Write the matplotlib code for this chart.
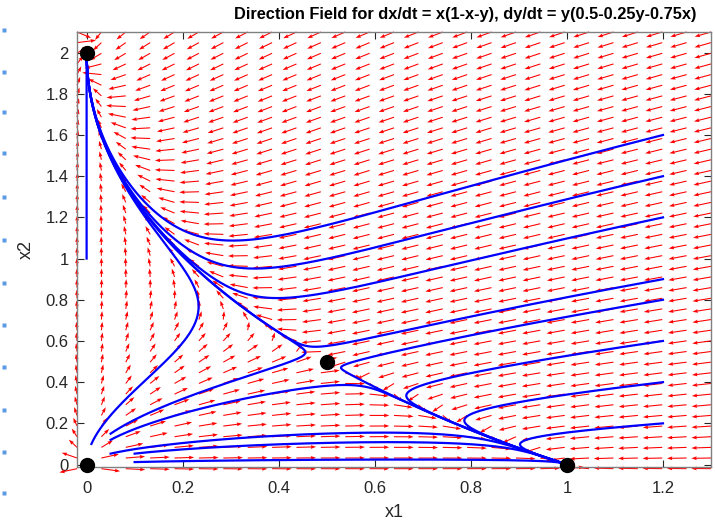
import numpy as np
import matplotlib
matplotlib.use("Agg")
import matplotlib.pyplot as plt

plt.rcParams['font.family'] = ['Liberation Sans', 'DejaVu Sans']

# system from the title: dx/dt = x(1-x-y), dy/dt = y(0.5-0.25y-0.75x)
a1, b1, c1 = 1.0, 1.0, 1.0
a2, b2, c2 = 0.5, 0.25, 0.75

# grid of the direction field
grid_x = np.linspace(-0.02, 1.3, 27)
grid_y = np.linspace(-0.02, 2.1, 42)
arrow_len = 0.041

# starting points of the plotted trajectories
start_x = [1.2, 1.2, 1.2, 1.2, 1.2, 1.2, 1.2, 1.2, 0.0, 0.01, 0.05, 0.05, 0.05, 0.1, 0.1]
start_y = [1.6, 1.4, 1.2, 0.9, 0.8, 0.6, 0.4, 0.2, 1.0, 0.1, 0.15, 0.12, 0.053, 0.053, 0.012]

# equilibrium points
eq_x = [0, 1, 0, 0.5]
eq_y = [0, 0, 2, 0.5]

x_ticks = [0, 0.2, 0.4, 0.6, 0.8, 1, 1.2]
x_labels = ['0', '0.2', '0.4', '0.6', '0.8', '1', '1.2']
y_ticks = [0, 0.2, 0.4, 0.6, 0.8, 1, 1.2, 1.4, 1.6, 1.8, 2]
y_labels = ['0', '0.2', '0.4', '0.6', '0.8', '1', '1.2', '1.4', '1.6', '1.8', '2']

# faint blue dots along the left margin of the screenshot (pixel rows)
margin_dots = [30, 72, 112, 153, 197, 240, 283, 325, 367, 410, 452, 493]


def rhs(x, y):
    return x * (a1 - b1 * x - c1 * y), y * (a2 - b2 * y - c2 * x)


def trajectory(x0, y0, t_end=40.0, dt=0.01):
    xs, ys = [x0], [y0]
    x, y = x0, y0
    for _ in range(int(t_end / dt)):
        k1 = rhs(x, y)
        k2 = rhs(x + dt / 2 * k1[0], y + dt / 2 * k1[1])
        k3 = rhs(x + dt / 2 * k2[0], y + dt / 2 * k2[1])
        k4 = rhs(x + dt * k3[0], y + dt * k3[1])
        x = x + dt / 6 * (k1[0] + 2 * k2[0] + 2 * k3[0] + k4[0])
        y = y + dt / 6 * (k1[1] + 2 * k2[1] + 2 * k3[1] + k4[1])
        xs.append(x)
        ys.append(y)
    return np.array(xs), np.array(ys)


X, Y = np.meshgrid(grid_x, grid_y)
U, V = rhs(X, Y)
mag = np.hypot(U, V)
mag[mag == 0] = 1
U = U / mag * arrow_len
V = V / mag * arrow_len

fig = plt.figure(figsize=(7.15, 5.21), dpi=100)
ax = fig.add_axes([0.1077, 0.1036, 0.8867, 0.835])

ax.quiver(X, Y, U, V, angles='xy', scale_units='xy', scale=1, color='red',
          width=0.0017, headwidth=3.5, headlength=5, headaxislength=4.5,
          clip_on=False, zorder=2)

for sx, sy in zip(start_x, start_y):
    tx, ty = trajectory(sx, sy)
    ax.plot(tx, ty, color='blue', lw=1.6, zorder=3)

ax.plot(eq_x, eq_y, 'o', color='black', ms=10, clip_on=False, zorder=4)

ax.set_xlim(-0.02, 1.3)
ax.set_ylim(-0.012, 2.1)
ax.set_xticks(x_ticks)
ax.set_xticklabels(x_labels)
ax.set_yticks(y_ticks)
ax.set_yticklabels(y_labels)
ax.tick_params(direction='in', top=True, right=True, labelsize=12,
               colors='#262626', length=5, width=0.8)
ax.tick_params(axis='x', pad=10)
ax.tick_params(axis='y', pad=6)
for s in ax.spines.values():
    s.set_color('#808080')
    s.set_linewidth(1.0)
ax.set_xlabel('x1', fontsize=13, color='#262626', labelpad=6)
ax.set_ylabel('x2', fontsize=13, color='#262626', labelpad=8)

fig.text(0.65, 0.972, 'Direction Field for dx/dt = x(1-x-y), dy/dt = y(0.5-0.25y-0.75x)',
         ha='center', va='center', fontsize=11.8, fontweight='bold')

fig.lines.append(plt.Line2D([4 / 715] * len(margin_dots),
                            [1 - p / 521 for p in margin_dots],
                            transform=fig.transFigure, ls='none', marker='s',
                            ms=2.2, color='#5b9be6', mec='none'))

fig.savefig('out.png', dpi=100)
plt.close()
